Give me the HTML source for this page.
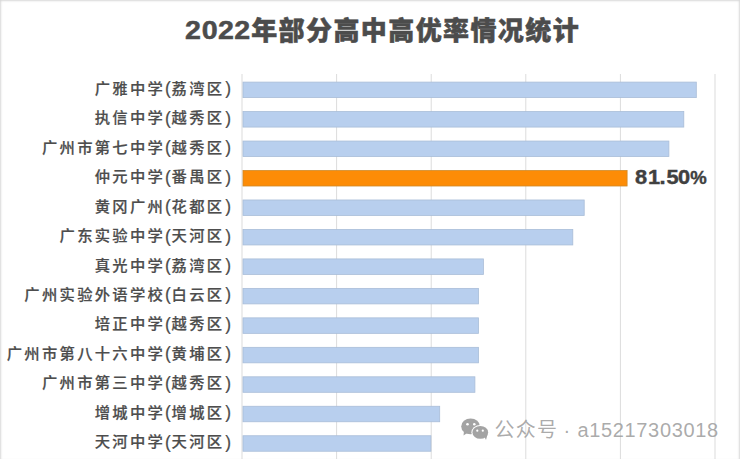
<!DOCTYPE html>
<html><head><meta charset="utf-8">
<style>
html,body{margin:0;padding:0;background:#fff;}
body{width:740px;height:459px;position:relative;overflow:hidden;}
.frame{position:absolute;left:0;top:0;width:740px;height:459px;box-shadow:inset 2px 2px 2px -1px #d8d8d8, inset -2px 0 2px -1px #d8d8d8;}
svg{position:absolute;left:0;top:0;}
.title{font-family:"Liberation Sans","Noto Sans CJK SC",sans-serif;font-weight:900;stroke:#4c4c4c;stroke-width:0.5px;font-size:26px;letter-spacing:1.5px;fill:#4c4c4c;}
.lab{font-family:"Liberation Sans","Noto Sans CJK SC",sans-serif;font-weight:500;font-size:15.3px;letter-spacing:2.3px;fill:#4d4d4d;stroke:#4d4d4d;stroke-width:0.2px;}
.val{font-family:"Liberation Sans","Noto Sans CJK SC",sans-serif;font-weight:700;font-size:19.5px;stroke:#404040;stroke-width:0.4px;fill:#404040;}
.par{font-size:17.5px;}
.pl{letter-spacing:0.6px;}
.wm{font-family:"Liberation Sans","Noto Sans CJK SC",sans-serif;font-weight:400;font-size:20px;letter-spacing:0.4px;fill:#9c9c9c;fill-opacity:0.85;}
</style></head>
<body>
<svg width="740" height="459" viewBox="0 0 740 459">
<g transform="translate(185 0) scale(1.1 1)"><text x="0 15.3 30 44.8" y="29.5" class="title" dominant-baseline="central">2022</text></g>
<text x="251.2" y="30.7" class="title" dominant-baseline="central" textLength="329" lengthAdjust="spacing">年部分高中高优率情况统计</text>
<rect x="241.50" y="74" width="1" height="385" fill="#dcdcdc"/>
<rect x="336.10" y="74" width="1" height="385" fill="#dcdcdc"/>
<rect x="430.70" y="74" width="1" height="385" fill="#dcdcdc"/>
<rect x="525.30" y="74" width="1" height="385" fill="#dcdcdc"/>
<rect x="619.90" y="74" width="1" height="385" fill="#dcdcdc"/>
<rect x="714.50" y="74" width="1" height="385" fill="#dcdcdc"/>
<rect x="243.00" y="82.10" width="453.30" height="15.50" fill="#b8cfee" stroke="#a9bdd8" stroke-width="0.8"/>
<text x="233.3" y="88.20" class="lab" text-anchor="end" dominant-baseline="central">广雅中学<tspan class="par pl">(</tspan>荔湾区<tspan class="par" dx="0.8">)</tspan></text>
<rect x="243.00" y="111.57" width="440.80" height="15.50" fill="#b8cfee" stroke="#a9bdd8" stroke-width="0.8"/>
<text x="233.3" y="117.67" class="lab" text-anchor="end" dominant-baseline="central">执信中学<tspan class="par pl">(</tspan>越秀区<tspan class="par" dx="0.8">)</tspan></text>
<rect x="243.00" y="141.04" width="425.90" height="15.50" fill="#b8cfee" stroke="#a9bdd8" stroke-width="0.8"/>
<text x="233.3" y="147.14" class="lab" text-anchor="end" dominant-baseline="central">广州市第七中学<tspan class="par pl">(</tspan>越秀区<tspan class="par" dx="0.8">)</tspan></text>
<rect x="243.00" y="170.51" width="384.10" height="15.50" fill="#fd8c06" stroke="#cf8a2a" stroke-width="0.8"/>
<text x="233.3" y="176.61" class="lab" text-anchor="end" dominant-baseline="central">仲元中学<tspan class="par pl">(</tspan>番禺区<tspan class="par" dx="0.8">)</tspan></text>
<rect x="243.00" y="199.98" width="341.20" height="15.50" fill="#b8cfee" stroke="#a9bdd8" stroke-width="0.8"/>
<text x="233.3" y="206.08" class="lab" text-anchor="end" dominant-baseline="central">黄冈广州<tspan class="par pl">(</tspan>花都区<tspan class="par" dx="0.8">)</tspan></text>
<rect x="243.00" y="229.45" width="329.80" height="15.50" fill="#b8cfee" stroke="#a9bdd8" stroke-width="0.8"/>
<text x="233.3" y="235.55" class="lab" text-anchor="end" dominant-baseline="central">广东实验中学<tspan class="par pl">(</tspan>天河区<tspan class="par" dx="0.8">)</tspan></text>
<rect x="243.00" y="258.92" width="240.40" height="15.50" fill="#b8cfee" stroke="#a9bdd8" stroke-width="0.8"/>
<text x="233.3" y="265.02" class="lab" text-anchor="end" dominant-baseline="central">真光中学<tspan class="par pl">(</tspan>荔湾区<tspan class="par" dx="0.8">)</tspan></text>
<rect x="243.00" y="288.39" width="235.50" height="15.50" fill="#b8cfee" stroke="#a9bdd8" stroke-width="0.8"/>
<text x="233.3" y="294.49" class="lab" text-anchor="end" dominant-baseline="central">广州实验外语学校<tspan class="par pl">(</tspan>白云区<tspan class="par" dx="0.8">)</tspan></text>
<rect x="243.00" y="317.86" width="235.50" height="15.50" fill="#b8cfee" stroke="#a9bdd8" stroke-width="0.8"/>
<text x="233.3" y="323.96" class="lab" text-anchor="end" dominant-baseline="central">培正中学<tspan class="par pl">(</tspan>越秀区<tspan class="par" dx="0.8">)</tspan></text>
<rect x="243.00" y="347.33" width="235.50" height="15.50" fill="#b8cfee" stroke="#a9bdd8" stroke-width="0.8"/>
<text x="233.3" y="353.43" class="lab" text-anchor="end" dominant-baseline="central">广州市第八十六中学<tspan class="par pl">(</tspan>黄埔区<tspan class="par" dx="0.8">)</tspan></text>
<rect x="243.00" y="376.80" width="231.90" height="15.50" fill="#b8cfee" stroke="#a9bdd8" stroke-width="0.8"/>
<text x="233.3" y="382.90" class="lab" text-anchor="end" dominant-baseline="central">广州市第三中学<tspan class="par pl">(</tspan>越秀区<tspan class="par" dx="0.8">)</tspan></text>
<rect x="243.00" y="406.27" width="196.70" height="15.50" fill="#b8cfee" stroke="#a9bdd8" stroke-width="0.8"/>
<text x="233.3" y="412.37" class="lab" text-anchor="end" dominant-baseline="central">增城中学<tspan class="par pl">(</tspan>增城区<tspan class="par" dx="0.8">)</tspan></text>
<rect x="243.00" y="435.74" width="187.90" height="15.50" fill="#b8cfee" stroke="#a9bdd8" stroke-width="0.8"/>
<text x="233.3" y="441.84" class="lab" text-anchor="end" dominant-baseline="central">天河中学<tspan class="par pl">(</tspan>天河区<tspan class="par" dx="0.8">)</tspan></text>
<g transform="translate(635 0) scale(1.12 1)"><text x="0 11.6 21.8 28.2 38.3" y="177.11" class="val" dominant-baseline="central">81.50</text></g><text x="690.2" y="177.11" class="val" style="font-size:18.5px" dominant-baseline="central">%</text>
<g fill="#a3a3a3">
<ellipse cx="470.6" cy="426.4" rx="9.4" ry="7.9"/>
<path d="M464 431 L463.5 435.5 L468 432.5 Z"/>
<ellipse cx="480.3" cy="432.4" rx="8.9" ry="7.4" fill="#fff"/>
<ellipse cx="480.3" cy="432.4" rx="7.85" ry="6.4"/>
<path d="M484 436 L486 440 L487.5 434.5 Z"/>
</g>
<g fill="#fff">
<circle cx="467.5" cy="424.2" r="1.3"/><circle cx="474.3" cy="424.2" r="1.3"/>
<circle cx="477.3" cy="430.7" r="1.1"/><circle cx="482.8" cy="430.7" r="1.1"/>
</g>
<text x="494.5" y="430" class="wm" dominant-baseline="central" textLength="63" lengthAdjust="spacing">公众号</text><text x="563.5" y="430" class="wm" dominant-baseline="central">·</text><text x="577.5" y="430" class="wm" dominant-baseline="central" textLength="141" lengthAdjust="spacing">a15217303018</text>
</svg>
<div class="frame"></div>
</body></html>
